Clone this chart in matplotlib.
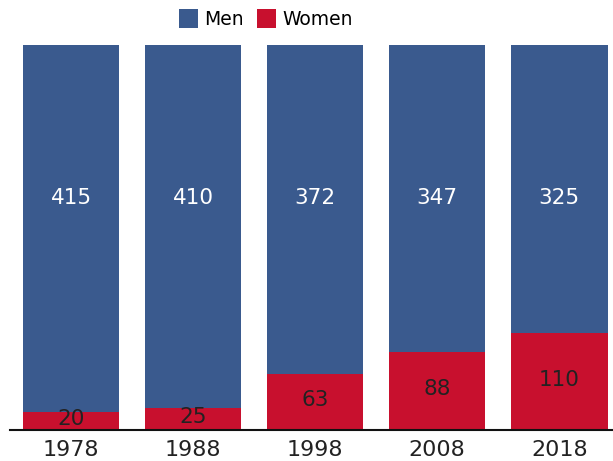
import matplotlib.pyplot as plt
import numpy as np

plt.rcParams['font.family'] = ['DejaVu Sans']

years = ['1978', '1988', '1998', '2008', '2018']
men = [415, 410, 372, 347, 325]
women = [20, 25, 63, 88, 110]

blue = '#3a5a8e'
red = '#c8102e'

fig = plt.figure(figsize=(6.13, 4.61), dpi=100)
ax = fig.add_axes([10 / 613, 31 / 461, 603 / 613, 385 / 461])

x = np.arange(len(years))
ax.bar(x, women, width=0.79, color=red, label='Women')
ax.bar(x, men, width=0.79, bottom=women, color=blue, label='Men')

# value labels: men at a fixed height, women in the middle of their segment
for i in range(len(years)):
    ax.text(x[i], 262, str(men[i]), ha='center', va='center', color='white', fontsize=15.5)
    ax.text(x[i], women[i] / 2 + 2, str(women[i]), ha='center', va='center', color='#222222', fontsize=15.5)

ax.set_xlim(-0.5, 4.44)
ax.set_ylim(0, 435)
ax.set_xticks(x)
ax.set_xticklabels(years, fontsize=16, color='#222222')
ax.tick_params(axis='x', length=0, pad=7)
ax.set_yticks([])
for s in ['top', 'right', 'left']:
    ax.spines[s].set_visible(False)
ax.spines['bottom'].set_linewidth(1.5)
ax.spines['bottom'].set_color('#111111')

handles, labels = ax.get_legend_handles_labels()
fig.legend(handles[::-1], labels[::-1], loc='center', bbox_to_anchor=(266 / 613, 1 - 19 / 461),
           ncol=2, frameon=False, fontsize=13.5, handlelength=1.0, handleheight=1.2,
           handletextpad=0.35, columnspacing=0.7, borderaxespad=0)

fig.savefig('out.png', dpi=100)
